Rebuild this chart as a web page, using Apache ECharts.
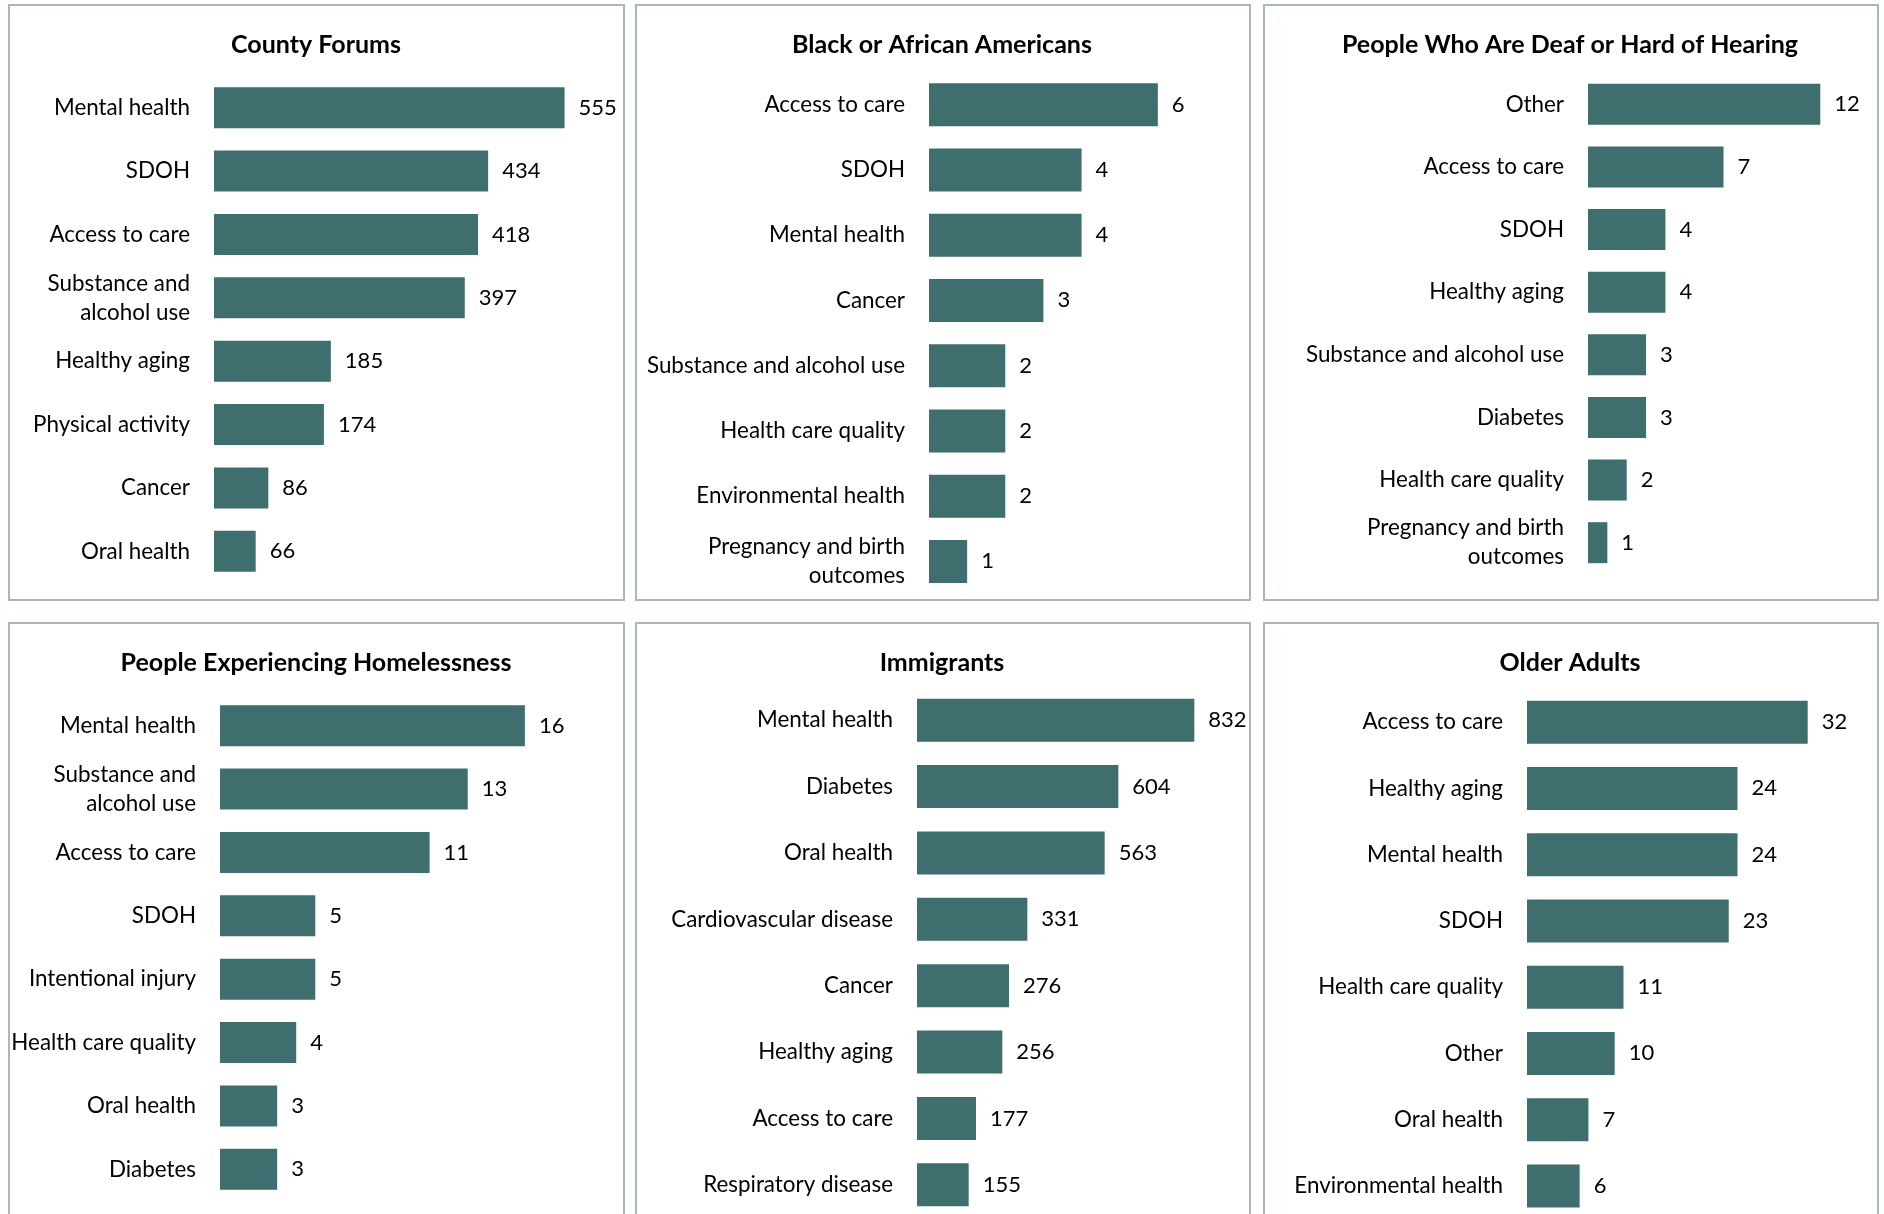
<!DOCTYPE html>
<html>
<head>
<meta charset="utf-8">
<script src="https://cdn.jsdelivr.net/npm/echarts@6/dist/echarts.min.js"></script>
<style>
  html, body { margin: 0; padding: 0; background: #fff; overflow: hidden; }
  #chart { width: 1884px; height: 1260px; }
</style>
</head>
<body>
<div id="chart"></div>
<script>
// ---- Data ----
const titles = ['County Forums', 'Black or African Americans', 'People Who Are Deaf or Hard of Hearing',
                'People Experiencing Homelessness', 'Immigrants', 'Older Adults'];

const countyCats = ['Mental health', 'SDOH', 'Access to care', 'Substance and\nalcohol use', 'Healthy aging', 'Physical activity', 'Cancer', 'Oral health'];
const countyVals = [555, 434, 418, 397, 185, 174, 86, 66];

const blackCats = ['Access to care', 'SDOH', 'Mental health', 'Cancer', 'Substance and alcohol use', 'Health care quality', 'Environmental health', 'Pregnancy and birth\noutcomes'];
const blackVals = [6, 4, 4, 3, 2, 2, 2, 1];

const deafCats = ['Other', 'Access to care', 'SDOH', 'Healthy aging', 'Substance and alcohol use', 'Diabetes', 'Health care quality', 'Pregnancy and birth\noutcomes'];
const deafVals = [12, 7, 4, 4, 3, 3, 2, 1];

const homelessCats = ['Mental health', 'Substance and\nalcohol use', 'Access to care', 'SDOH', 'Intentional injury', 'Health care quality', 'Oral health', 'Diabetes'];
const homelessVals = [16, 13, 11, 5, 5, 4, 3, 3];

const immigrantCats = ['Mental health', 'Diabetes', 'Oral health', 'Cardiovascular disease', 'Cancer', 'Healthy aging', 'Access to care', 'Respiratory disease'];
const immigrantVals = [832, 604, 563, 331, 276, 256, 177, 155];

const olderCats = ['Access to care', 'Healthy aging', 'Mental health', 'SDOH', 'Health care quality', 'Other', 'Oral health', 'Environmental health'];
const olderVals = [32, 24, 24, 23, 11, 10, 7, 6];

// ---- Layout (pixels) ----
const panels = [
  { cats: countyCats,    vals: countyVals,    max: 600, grid: { left: 214,  top: 76,  width: 379, height: 507 }, bw: 41, box: [9, 5, 615, 595],    tx: 311,  ty: 27 },
  { cats: blackCats,     vals: blackVals,     max: 7,   grid: { left: 929,  top: 72,  width: 267, height: 522 }, bw: 43, box: [636, 5, 614, 595],  tx: 937,  ty: 27 },
  { cats: deafCats,      vals: deafVals,      max: 14,  grid: { left: 1588, top: 73,  width: 271, height: 501 }, bw: 41, box: [1264, 5, 614, 595], tx: 1565, ty: 27 },
  { cats: homelessCats,  vals: homelessVals,  max: 18,  grid: { left: 220,  top: 694, width: 343, height: 507 }, bw: 41, box: [9, 623, 615, 630],  tx: 311,  ty: 645 },
  { cats: immigrantCats, vals: immigrantVals, max: 900, grid: { left: 917,  top: 687, width: 300, height: 531 }, bw: 43, box: [636, 623, 614, 630],tx: 937,  ty: 645 },
  { cats: olderCats,     vals: olderVals,     max: 35,  grid: { left: 1527, top: 689, width: 307, height: 530 }, bw: 43, box: [1264, 623, 614, 630],tx: 1565, ty: 645 }
];

const FONT = 'Lato';
const BAR = '#3e6e6e';
const BORDER = '#aab6ba';

const option = {
  animation: false,
  backgroundColor: '#ffffff',
  title: panels.map((p, i) => ({
    text: titles[i],
    left: p.tx,
    top: p.ty,
    textAlign: 'center',
    textStyle: { fontFamily: FONT, fontSize: 25, fontWeight: 'bold', color: '#000' }
  })),
  grid: panels.map(p => Object.assign({ containLabel: false }, p.grid)),
  xAxis: panels.map((p, i) => ({
    type: 'value', gridIndex: i, min: 0, max: p.max,
    show: false, splitLine: { show: false }
  })),
  yAxis: panels.map((p, i) => ({
    type: 'category', gridIndex: i, data: p.cats, inverse: true,
    axisLine: { show: false }, axisTick: { show: false }, splitLine: { show: false },
    axisLabel: { margin: 24, fontFamily: FONT, fontSize: 22.4, color: '#000', lineHeight: 29, align: 'right' }
  })),
  series: panels.map((p, i) => ({
    type: 'bar', xAxisIndex: i, yAxisIndex: i, data: p.vals, barWidth: p.bw,
    itemStyle: { color: BAR },
    label: { show: true, position: 'right', distance: 14, fontFamily: FONT, fontSize: 22, color: '#000' }
  })),
  graphic: panels.map(p => ({
    type: 'rect', silent: true,
    shape: { x: p.box[0], y: p.box[1], width: p.box[2], height: p.box[3] },
    style: { fill: 'none', stroke: BORDER, lineWidth: 2 }
  }))
};

const chart = echarts.init(document.getElementById('chart'), null, { renderer: 'canvas' });
chart.setOption(option);
</script>
</body>
</html>
